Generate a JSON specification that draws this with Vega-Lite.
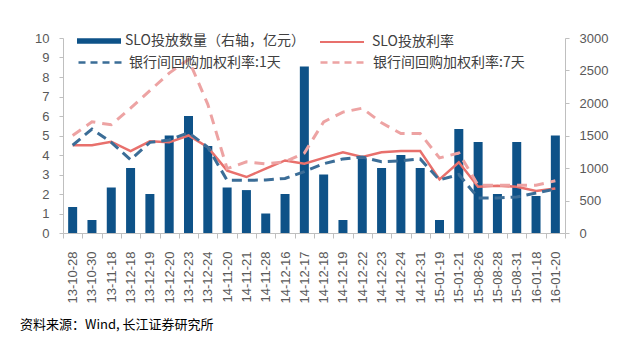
{
  "$schema": "https://vega.github.io/schema/vega-lite/v6.json",
  "autosize": {"type": "none"},
  "width": 502,
  "height": 195,
  "padding": {"left": 63, "top": 38, "right": 75, "bottom": 110},
  "background": "white",
  "config": {
    "view": {"stroke": null},
    "font": "Liberation Sans",
    "axis": {"grid": false, "domainColor": "#bfbfbf", "tickColor": "#bfbfbf", "labelColor": "#595959", "labelFontSize": 13, "labelFont": "Liberation Sans", "title": null},
    "legend": {"labelFont": "Noto Sans CJK SC", "labelFontSize": 14, "labelColor": "#404040", "title": null, "orient": "none", "labelLimit": 0}
  },
  "title": {"text": "资料来源：Wind, 长江证券研究所", "orient": "bottom", "anchor": "start", "frame": "group", "dx": -43, "offset": 16, "font": "Noto Sans CJK SC", "fontSize": 13, "fontWeight": "normal", "color": "#000000"},
  "data": {"values": [
    {"date": "13-10-28", "amt": 400, "slo": 4.5, "r1": 4.5, "r7": 5.0},
    {"date": "13-10-30", "amt": 200, "slo": 4.5, "r1": 5.33, "r7": 5.7},
    {"date": "13-11-18", "amt": 700, "slo": 4.68, "r1": 4.65, "r7": 5.55},
    {"date": "13-12-18", "amt": 1000, "slo": 4.2, "r1": 3.76, "r7": 6.4},
    {"date": "13-12-19", "amt": 600, "slo": 4.7, "r1": 4.65, "r7": 7.3},
    {"date": "13-12-20", "amt": 1500, "slo": 4.65, "r1": 4.77, "r7": 8.2},
    {"date": "13-12-23", "amt": 1800, "slo": 5.0, "r1": 5.15, "r7": 8.9},
    {"date": "13-12-24", "amt": 1340, "slo": 4.4, "r1": 4.4, "r7": 6.6},
    {"date": "14-11-20", "amt": 700, "slo": 3.2, "r1": 2.7, "r7": 3.3},
    {"date": "14-11-21", "amt": 660, "slo": 2.87, "r1": 2.7, "r7": 3.65},
    {"date": "14-11-28", "amt": 300, "slo": 3.3, "r1": 2.72, "r7": 3.55},
    {"date": "14-12-16", "amt": 600, "slo": 3.72, "r1": 2.8, "r7": 3.65},
    {"date": "14-12-17", "amt": 2560, "slo": 3.55, "r1": 3.15, "r7": 4.1},
    {"date": "14-12-18", "amt": 900, "slo": 3.85, "r1": 3.55, "r7": 5.7},
    {"date": "14-12-19", "amt": 200, "slo": 4.14, "r1": 3.8, "r7": 6.2},
    {"date": "14-12-22", "amt": 1150, "slo": 3.9, "r1": 3.9, "r7": 6.4},
    {"date": "14-12-23", "amt": 1000, "slo": 4.14, "r1": 3.65, "r7": 5.65},
    {"date": "14-12-24", "amt": 1200, "slo": 4.2, "r1": 3.7, "r7": 5.1},
    {"date": "14-12-31", "amt": 1000, "slo": 4.2, "r1": 3.8, "r7": 5.1},
    {"date": "15-01-19", "amt": 200, "slo": 2.75, "r1": 2.72, "r7": 3.85},
    {"date": "15-01-21", "amt": 1600, "slo": 3.63, "r1": 3.0, "r7": 4.1},
    {"date": "15-08-26", "amt": 1400, "slo": 2.37, "r1": 1.8, "r7": 2.45},
    {"date": "15-08-28", "amt": 600, "slo": 2.42, "r1": 1.8, "r7": 2.45},
    {"date": "15-08-31", "amt": 1400, "slo": 2.37, "r1": 1.85, "r7": 2.45},
    {"date": "16-01-18", "amt": 570, "slo": 2.15, "r1": 2.05, "r7": 2.45},
    {"date": "16-01-20", "amt": 1500, "slo": 2.28, "r1": 2.25, "r7": 2.68}
  ]},
  "encoding": {
    "x": {"field": "date", "type": "nominal", "sort": null,
      "scale": {"paddingInner": 0, "paddingOuter": 0},
      "axis": {"labelAngle": -90, "tickBand": "extent", "tickSize": 5, "labelPadding": 13, "labelColor": "#595959"}}
  },
  "layer": [
    {
      "mark": {"type": "bar", "size": 9},
      "encoding": {
        "y": {"field": "amt", "type": "quantitative", "scale": {"domain": [0, 3000]},
          "axis": {"orient": "right", "values": [0, 500, 1000, 1500, 2000, 2500, 3000], "format": "d", "tickSize": 4, "labelPadding": 10}},
        "color": {"datum": "SLO投放数量（右轴，亿元）", "scale": {"range": ["#0e5288"]},
          "legend": {"legendX": 14, "legendY": -19, "symbolType": "M-1,-0.12H1V0.12H-1Z", "symbolSize": 1936, "labelOffset": 4, "symbolStrokeWidth": 0}}
      }
    },
    {
      "mark": {"type": "line", "strokeWidth": 2.5},
      "encoding": {
        "y": {"field": "slo", "type": "quantitative", "scale": {"domain": [0, 10]},
          "axis": {"orient": "left", "values": [0, 1, 2, 3, 4, 5, 6, 7, 8, 9, 10], "tickSize": 4, "labelPadding": 10}},
        "color": {"datum": "SLO投放利率", "scale": {"range": ["#e8706c"]},
          "legend": {"legendX": 256, "legendY": -19, "symbolType": "stroke", "symbolSize": 1936, "symbolStrokeWidth": 2, "labelOffset": 7}}
      }
    },
    {
      "mark": {"type": "line", "strokeWidth": 3, "strokeDash": [10, 6]},
      "encoding": {
        "y": {"field": "r1", "type": "quantitative", "scale": {"domain": [0, 10]}, "axis": null},
        "color": {"datum": "银行间回购加权利率:1天", "scale": {"range": ["#3b6d97"]},
          "legend": {"legendX": 14, "legendY": 1, "symbolType": "stroke", "symbolSize": 1936, "symbolStrokeWidth": 2.5, "symbolDash": [7, 5], "labelOffset": 5}}
      }
    },
    {
      "mark": {"type": "line", "strokeWidth": 3, "strokeDash": [10, 7]},
      "encoding": {
        "y": {"field": "r7", "type": "quantitative", "scale": {"domain": [0, 10]}, "axis": null},
        "color": {"datum": "银行间回购加权利率:7天", "scale": {"range": ["#eda3a3"]},
          "legend": {"legendX": 256, "legendY": 1, "symbolType": "stroke", "symbolSize": 1936, "symbolStrokeWidth": 2.5, "symbolDash": [7, 5], "labelOffset": 7}}
      }
    }
  ],
  "resolve": {"scale": {"y": "independent", "color": "independent"}, "legend": {"color": "independent"}, "axis": {"y": "independent"}}
}
